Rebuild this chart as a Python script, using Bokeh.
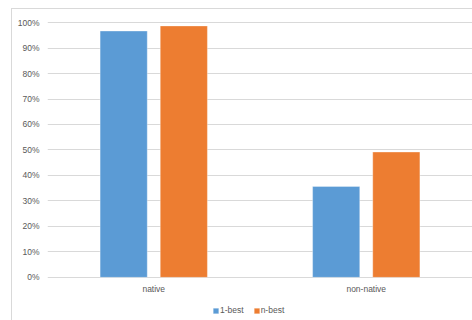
from bokeh.plotting import figure
from bokeh.models import ColumnDataSource, FactorRange, Range1d, NumeralTickFormatter, Legend, LegendItem, FixedTicker
from bokeh.transform import dodge
from bokeh.core.properties import value
from bokeh.embed import file_html
from bokeh.resources import INLINE

categories = ["native", "non-native"]
one_best = [0.967, 0.357]
n_best = [0.987, 0.492]
series_names = ["1-best", "n-best"]
y_ticks = [0.0, 0.1, 0.2, 0.3, 0.4, 0.5, 0.6, 0.7, 0.8, 0.9, 1.0]

source = ColumnDataSource(dict(cat=categories, one=one_best, nb=n_best))

FONT = "Liberation Sans"
TXT = "#595959"

p = figure(
    x_range=FactorRange(*categories),
    y_range=Range1d(-0.1733, 1.02),
    width=461, height=312,
    output_backend="svg", toolbar_location=None,
    min_border_left=35, min_border_right=1, min_border_top=8, min_border_bottom=0,
    margin=(8, 0, 0, 11),
)
p.styles = {"border-left": "1px solid #d9d9d9", "border-top": "1px solid #d9d9d9", "box-sizing": "border-box"}
p.outline_line_color = None
p.background_fill_color = "white"
p.border_fill_color = "white"

r1 = p.vbar(x=dodge("cat", -0.1415, range=p.x_range), top="one", width=0.222, source=source,
            fill_color="#5B9BD5", line_color="white", line_alpha=0.35, line_width=1)
r2 = p.vbar(x=dodge("cat", 0.1415, range=p.x_range), top="nb", width=0.222, source=source,
            fill_color="#ED7D31", line_color="white", line_alpha=0.35, line_width=1)

# category labels (x axis hidden because the frame extends below it to hold the legend)
p.text(x="cat", y=-0.0473, text="cat", source=source, text_align="center", text_baseline="middle",
       text_font=value(FONT), text_font_size="8.5px", text_color=TXT)
p.xaxis.visible = False

p.xgrid.grid_line_color = None
p.ygrid.grid_line_color = "#d9d9d9"
p.ygrid.ticker = FixedTicker(ticks=y_ticks)

p.yaxis.ticker = FixedTicker(ticks=y_ticks)
p.yaxis.formatter = NumeralTickFormatter(format="0%")
ax = p.yaxis[0]
ax.axis_line_color = None
ax.major_tick_line_color = None
ax.minor_tick_line_color = None
ax.major_tick_out = 0
ax.major_tick_in = 0
ax.major_label_text_font = FONT
ax.major_label_text_font_size = "8.5px"
ax.major_label_text_color = TXT
ax.major_label_standoff = 8

legend = Legend(
    items=[LegendItem(label=series_names[0], renderers=[r1]),
           LegendItem(label=series_names[1], renderers=[r2])],
    orientation="horizontal",
    location=(165, 6),
    glyph_width=7, glyph_height=7,
    label_standoff=1, spacing=9, padding=3, margin=0,
    label_text_font=FONT, label_text_font_size="8.5px", label_text_color=TXT,
    border_line_color=None, background_fill_alpha=0,
    label_height=9,
)
p.add_layout(legend, "center")

open("out.html", "w").write(file_html(p, INLINE))
